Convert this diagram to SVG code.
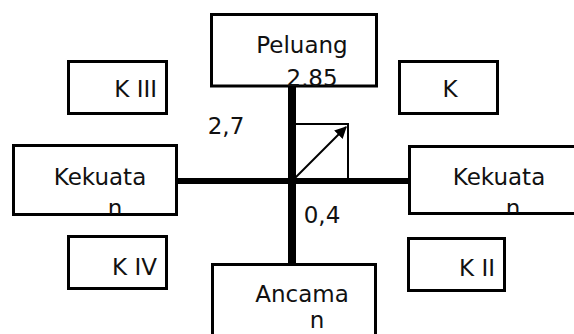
<svg xmlns="http://www.w3.org/2000/svg" width="574" height="334" viewBox="0 0 574 334">
<style>
.box{fill:#fff;stroke:#000;stroke-width:3}
.t{font-family:"DejaVu Sans",Verdana,sans-serif;font-size:23px;fill:#111}
.thick{stroke:#000;fill:none}
.thin{stroke:#000;stroke-width:2;fill:none}
</style>
<defs>
<marker id="ah" viewBox="0 0 10 10" refX="9" refY="5" markerWidth="6" markerHeight="6" orient="auto" markerUnits="strokeWidth">
<path d="M0,0 L10,5 L0,10 Z" fill="#000"/>
</marker>
<clipPath id="cPel"><rect x="211" y="14" width="166" height="72"/></clipPath>
<clipPath id="cL"><rect x="13" y="145" width="164" height="69"/></clipPath>
<clipPath id="cR"><rect x="409" y="146" width="200" height="67"/></clipPath>
</defs>
<rect width="574" height="334" fill="#fff"/>
<g id="connectors">
<line class="thick" x1="292" y1="87" x2="292" y2="265" stroke-width="8"/>
<line class="thick" x1="177" y1="181" x2="410" y2="181" stroke-width="6"/>
<polyline class="thin" points="295,124 348,124 348,181"/>
<line class="thin" x1="295" y1="178" x2="346" y2="127" marker-end="url(#ah)"/>
</g>
<g id="peluang">
<rect class="box" x="211.5" y="14.5" width="165" height="71.5"/>
<g clip-path="url(#cPel)">
<text class="t" x="302" y="53" text-anchor="middle">Peluang</text>
<text class="t" x="312" y="86" text-anchor="middle">2,85</text>
</g>
</g>
<g id="kekuatan-left">
<rect class="box" x="13.5" y="145.5" width="163" height="69"/>
<g clip-path="url(#cL)">
<text class="t" x="100" y="185" text-anchor="middle">Kekuata</text>
<text class="t" x="115" y="216" text-anchor="middle">n</text>
</g>
</g>
<g id="kekuatan-right">
<rect class="box" x="409.5" y="146.5" width="200" height="67"/>
<g clip-path="url(#cR)">
<text class="t" x="499" y="185" text-anchor="middle">Kekuata</text>
<text class="t" x="513" y="216" text-anchor="middle">n</text>
</g>
</g>
<g id="ancaman">
<rect class="box" x="212.5" y="264.5" width="163" height="100"/>
<text class="t" x="302" y="302" text-anchor="middle">Ancama</text>
<text class="t" x="317" y="328" text-anchor="middle">n</text>
</g>
<g id="k3">
<rect class="box" x="68.5" y="61.5" width="98" height="52"/>
<text class="t" x="157" y="97" text-anchor="end">K III</text>
</g>
<g id="k1">
<rect class="box" x="399.5" y="61.5" width="98" height="52"/>
<text class="t" x="450" y="97" text-anchor="middle">K</text>
</g>
<g id="k4">
<rect class="box" x="68.5" y="236.5" width="98" height="52"/>
<text class="t" x="157" y="275" text-anchor="end">K IV</text>
</g>
<g id="k2">
<rect class="box" x="408.5" y="238.5" width="96" height="52"/>
<text class="t" x="495" y="276" text-anchor="end">K II</text>
</g>
<g id="labels">
<text class="t" x="226" y="134" text-anchor="middle">2,7</text>
<text class="t" x="322" y="223" text-anchor="middle">0,4</text>
</g>
</svg>
